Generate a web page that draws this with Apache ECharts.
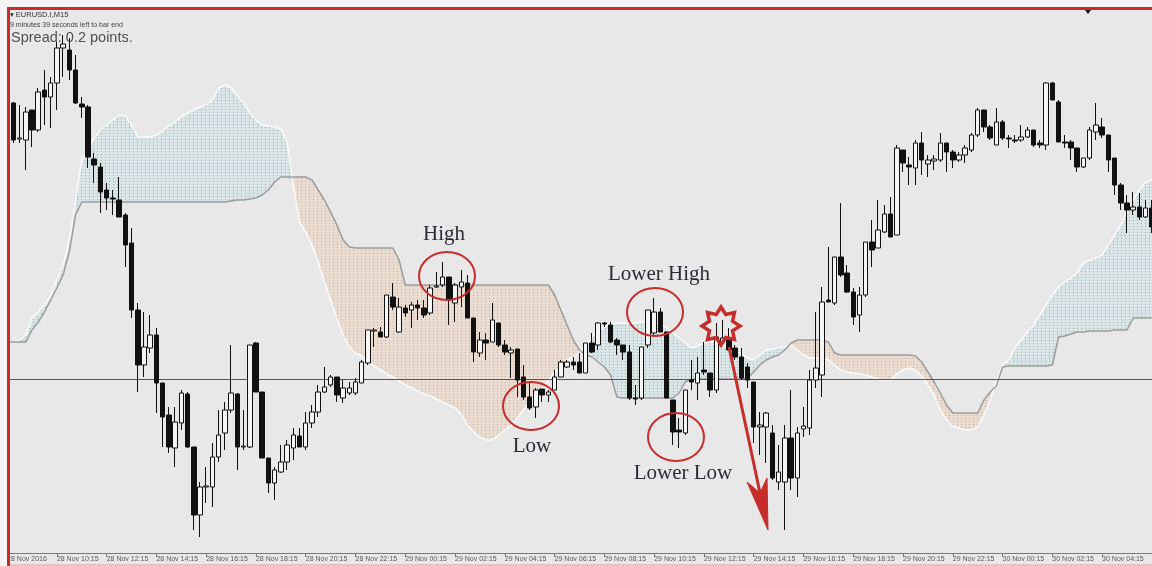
<!DOCTYPE html>
<html>
<head>
<meta charset="utf-8">
<title>EURUSD.I M15 - Ichimoku</title>
<script src="https://cdn.jsdelivr.net/npm/echarts@6.0.0/dist/echarts.min.js"></script>
<style>
    * { margin: 0; padding: 0; }
    body { background: #f4f4f4; }
    #main { width: 1152px; height: 566px; }
</style>
</head>
<body>
<div id="main"></div>
<script>
// x axis labels, one every 8 bars (2 hours of M15)
const tickLabels = ['28 Nov 2016', '28 Nov 10:15', '28 Nov 12:15', '28 Nov 14:15', '28 Nov 16:15', '28 Nov 18:15',
    '28 Nov 20:15', '28 Nov 22:15', '29 Nov 00:15', '29 Nov 02:15', '29 Nov 04:15', '29 Nov 06:15', '29 Nov 08:15',
    '29 Nov 10:15', '29 Nov 12:15', '29 Nov 14:15', '29 Nov 16:15', '29 Nov 18:15', '29 Nov 20:15', '29 Nov 22:15',
    '30 Nov 00:15', '30 Nov 02:15', '30 Nov 04:15', '30 Nov 06:15'];

// candles (price in chart units)
const openP = [
    468,463,427,426,456,436,476,469,483,518, 516,496,462,459,407,399,376,368,366,351,
    323,256,201,218,231,183,151,118,143,172, 119,51,79,79,109,133,156,172,119,119,
    223,174,108,83,94,104,118,130,119,143, 154,174,181,189,168,173,173,183,203,235,
    234,229,269,234,258,256,261,258,253,279, 281,289,263,279,283,248,213,226,224,243,
    221,213,217,189,169,159,177,171,176,189, 199,204,204,193,223,221,243,241,226,221,
    214,168,168,221,233,254,234,166,136,133, 186,183,196,193,176,224,226,218,209,199,
    184,139,139,133,84,84,128,88,137,138, 186,191,266,263,309,293,274,251,271,324,
    318,334,352,331,416,401,398,423,402,405, 406,423,414,406,411,416,431,456,439,421,
    444,428,426,426,429,436,423,421,483,464, 424,424,418,399,408,434,439,431,408,381,
    363,356,359,349,358];
const closeP = [
    463,426,428,454,436,474,469,483,518,522, 496,463,459,409,401,374,368,367,349,321,
    256,201,219,231,183,149,119,144,173,119, 51,79,80,109,131,156,173,119,120,221,
    174,108,83,96,104,121,131,119,143,154, 174,179,189,171,178,178,184,204,236,236,
    229,271,259,259,253,261,258,251,278,280, 289,266,281,284,248,214,226,223,246,221,
    214,216,186,169,158,176,171,174,189,204, 204,201,193,223,214,243,242,224,221,214,
    168,167,219,256,254,234,168,134,134,176, 184,193,194,176,229,228,216,209,188,186,
    139,141,153,88,94,128,88,133,140,186, 198,264,264,309,291,274,249,271,324,316,
    336,352,329,418,403,399,423,406,406,407, 423,414,406,411,418,431,456,439,428,444,
    428,427,425,429,436,421,421,483,466,424, 423,418,399,408,436,441,431,406,381,363,
    356,359,349,358,339];
const lowP = [
    458,423,423,396,419,434,441,438,456,489, 486,462,448,398,383,353,356,351,349,299,
    248,174,189,213,153,119,113,99,136,118, 36,29,63,59,104,116,153,96,116,118,
    174,108,73,66,93,96,106,119,116,138, 149,173,179,164,163,171,171,183,201,219,
    229,228,256,233,249,238,246,248,251,278, 279,241,244,259,248,204,209,206,224,219,
    211,188,169,166,156,148,164,164,176,189, 198,196,193,193,213,216,239,223,211,206,
    166,161,166,218,231,234,168,121,118,131, 176,166,191,169,173,223,216,206,186,178,
    123,111,103,86,76,36,76,69,129,131, 178,169,264,261,289,273,241,234,269,299,
    318,333,329,331,394,381,381,391,389,396, 404,394,398,404,403,414,429,434,426,421,
    426,418,423,424,428,419,418,416,466,424, 418,406,394,398,406,426,428,394,371,356,
    333,351,346,348,333];
const highP = [
    471,464,461,459,456,478,496,489,524,531, 528,511,469,461,413,403,383,376,389,353,
    338,263,254,251,238,183,159,159,176,174, 119,84,99,123,156,164,221,173,156,221,
    224,174,108,99,121,126,138,138,154,161, 181,199,191,189,186,184,188,206,236,238,
    239,271,283,268,261,264,266,266,281,294, 304,289,283,296,291,248,234,233,263,243,
    226,219,217,201,184,178,177,176,196,206, 206,209,213,223,233,244,244,244,228,221,
    221,181,219,256,268,258,234,166,148,176, 206,209,224,193,243,246,238,221,218,203,
    184,154,154,141,121,141,176,139,159,196, 254,279,319,309,363,301,278,279,324,346,
    366,361,369,421,416,409,426,434,411,411, 433,423,416,414,421,433,458,456,441,458,
    446,431,431,441,439,436,426,484,484,466, 431,426,418,408,439,463,448,431,408,383,
    371,374,373,366,366];

// Ichimoku cloud: Senkou Span A (white) and Senkou Span B (grey)
const spanA = [
    224,224,226,231,248,254,261,270,286,301, 326,366,406,416,428,436,441,446,451,450,
    441,429,429,429,431,435,440,444,449,453, 456,459,461,466,478,481,478,470,463,453,
    446,441,440,439,437,424,381,344,334,321, 304,284,266,248,231,219,213,210,204,200,
    196,192,189,185,181,178,175,172,170,167, 164,161,158,152,141,134,129,126,126,131,
    136,141,148,156,164,171,178,186,194,198, 206,209,214,221,229,236,239,242,243,243,
    243,243,244,244,243,241,238,233,228,223, 218,220,223,224,223,221,218,215,212,208,
    206,211,216,217,218,219,221,216,211,208, 208,208,206,201,196,194,193,192,191,189,
    187,186,186,192,196,198,196,190,181,171, 156,146,140,138,136,136,139,151,166,184,
    201,206,218,226,234,241,251,261,271,279, 284,288,293,303,306,308,311,321,331,341,
    354,366,376,384,386];
const spanB = [
    224,224,224,224,236,244,254,266,278,291, 314,351,364,364,364,364,364,364,364,364,
    364,364,364,364,364,364,364,364,364,364, 364,364,364,364,364,364,365,366,366,367,
    368,371,376,384,389,389,389,389,389,386, 376,366,354,341,326,319,318,318,318,318,
    318,318,318,306,281,281,281,281,281,281, 281,281,281,281,281,281,281,281,281,281,
    281,281,281,281,281,281,281,281,271,256, 241,226,216,211,209,204,199,191,169,168,
    168,168,168,168,168,168,168,168,173,184, 187,187,187,187,187,187,187,187,187,188,
    194,201,206,209,211,216,223,226,226,226, 226,226,224,213,211,211,211,211,211,211,
    211,211,211,211,211,211,210,204,194,184, 173,161,153,153,153,153,153,166,174,180,
    199,200,200,200,200,200,200,200,201,229, 230,232,234,234,235,235,235,235,236,236,
    236,248,248,248,248];

const refLevel = 187;

// bar times, M15 from 28 Nov 08:15
const dayNames = ['28 Nov', '29 Nov', '30 Nov'];
const barTimes = openP.map((_, i) => {
    const m = 8 * 60 + 15 + i * 15;
    const mm = m % 1440;
    return dayNames[Math.floor(m / 1440)] + ' ' + String(Math.floor(mm / 60)).padStart(2, '0') + ':' + String(mm % 60).padStart(2, '0');
});

const candles = openP.map((o, i) => [o, closeP[i], lowP[i], highP[i]]);
const kumoBase = spanA.map((a, i) => Math.min(a, spanB[i]));
const kumoUp = spanA.map((a, i) => Math.max(a - spanB[i], 0));
const kumoDown = spanA.map((a, i) => Math.max(spanB[i] - a, 0));

// dotted hatch like the MT4 cloud
function dotPattern(bg, dot) {
    const c = document.createElement('canvas');
    c.width = 4; c.height = 3;
    const ctx = c.getContext('2d');
    ctx.fillStyle = bg; ctx.fillRect(0, 0, 4, 3);
    ctx.fillStyle = dot; ctx.fillRect(1, 1, 1, 1);
    return c;
}

const red = '#c62d2b';
const ink = '#2b2b38';
const serif = '"Liberation Serif", "DejaVu Serif", serif';

function label(text, x, y) {
    return {
        type: 'text', x: x, y: y, z: 104,
        style: { text: text, font: '21px ' + serif, fill: ink,
            textAlign: 'center', align: 'center', textVerticalAlign: 'middle', verticalAlign: 'middle' }
    };
}
function ring(cx, cy) {
    return { type: 'ellipse', z: 103, shape: { cx: cx, cy: cy, rx: 28, ry: 24 },
        style: { fill: 'none', stroke: red, lineWidth: 2 } };
}

const starPts = [];
for (let k = 0; k < 16; k++) {
    const a = -Math.PI / 2 + k * Math.PI / 8;
    const r = k % 2 === 0 ? 19 : 12.5;
    starPts.push([721 + r * Math.cos(a), 326 + r * Math.sin(a)]);
}

var myChart = echarts.init(document.getElementById('main'), null, { renderer: 'canvas' });

const option = {
    animation: false,
    backgroundColor: '#e8e8e8',
    grid: { left: 4, top: 9, width: 1151, height: 544, outerBoundsMode: 'none', containLabel: false },
    xAxis: {
        type: 'category',
        data: barTimes,
        boundaryGap: true,
        axisLine: { lineStyle: { color: '#7a7a7a', width: 1 } },
        axisTick: { show: true, alignWithLabel: true, length: 4, interval: (i) => i % 8 === 0,
            lineStyle: { color: '#7a7a7a' } },
        axisLabel: {
            interval: (i) => i % 8 === 0,
            formatter: (v, i) => tickLabels[i / 8] || '',
            align: 'left', fontSize: 7, color: '#5a5a5a', margin: 3,
            fontFamily: '"Liberation Sans", Arial, sans-serif'
        },
        splitLine: { show: false }
    },
    yAxis: { type: 'value', min: 13, max: 557, show: false, splitLine: { show: false } },
    series: [
        { type: 'line', data: kumoBase, stack: 'kumo', symbol: 'none', silent: true, z: 1,
            lineStyle: { width: 0, opacity: 0 } },
        { type: 'line', data: kumoUp, stack: 'kumo', symbol: 'none', silent: true, z: 1,
            lineStyle: { width: 0, opacity: 0 },
            areaStyle: { opacity: 1, color: { image: dotPattern('#d9e4e6', '#8fb3b8'), repeat: 'repeat' } } },
        { type: 'line', data: kumoDown, stack: 'kumo', symbol: 'none', silent: true, z: 1,
            lineStyle: { width: 0, opacity: 0 },
            areaStyle: { opacity: 1, color: { image: dotPattern('#ebdcd1', '#dca782'), repeat: 'repeat' } } },
        { type: 'line', name: 'Senkou A', data: spanA, symbol: 'none', silent: true, z: 2,
            lineStyle: { color: '#fbfbfb', width: 1.5 } },
        { type: 'line', name: 'Senkou B', data: spanB, symbol: 'none', silent: true, z: 2,
            lineStyle: { color: '#9c9c9c', width: 1.5 } },
        {
            type: 'candlestick', name: 'EURUSD.I', data: candles, barWidth: 5, z: 5,
            itemStyle: { color: '#f5f5f5', color0: '#111', borderColor: '#111', borderColor0: '#111', borderWidth: 1 },
            markLine: {
                silent: true, symbol: 'none', label: { show: false },
                lineStyle: { color: '#555', width: 1, type: 'solid' },
                data: [{ yAxis: refLevel }]
            }
        }
    ],
    graphic: [
        // margin outside the red frame
        { type: 'rect', z: 100, shape: { x: 0, y: 0, width: 1152, height: 7 }, style: { fill: '#f4f4f4' } },
        { type: 'rect', z: 100, shape: { x: 0, y: 0, width: 7, height: 566 }, style: { fill: '#f4f4f4' } },
        { type: 'rect', z: 101, shape: { x: 7, y: 7, width: 1145, height: 3 }, style: { fill: red } },
        { type: 'rect', z: 101, shape: { x: 7, y: 7, width: 3, height: 559 }, style: { fill: red } },
        { type: 'rect', z: 101, shape: { x: 10, y: 564, width: 1142, height: 2 }, style: { fill: '#e6c4c2' } },
        { type: 'polygon', z: 102, shape: { points: [[1085, 10], [1091, 10], [1088, 14]] }, style: { fill: '#111' } },

        // MT4 header texts
        { type: 'text', x: 10, y: 15, z: 102, style: { text: '▾ EURUSD.I,M15', font: '7.5px "Liberation Sans", "DejaVu Sans"', fill: '#333',
            textVerticalAlign: 'middle', verticalAlign: 'middle' } },
        { type: 'text', x: 10, y: 25.5, z: 102, style: { text: '9 minutes 39 seconds left to bar end', font: '7px "Liberation Sans"', fill: '#444',
            textVerticalAlign: 'middle', verticalAlign: 'middle' } },
        { type: 'text', x: 11, y: 38, z: 102, style: { text: 'Spread: 0.2 points.', font: '14.5px "Liberation Sans"', fill: '#505050',
            textVerticalAlign: 'middle', verticalAlign: 'middle' } },

        // annotations
        label('High', 444, 234),
        label('Low', 532, 446),
        label('Lower High', 659, 274),
        label('Lower Low', 683, 473),
        ring(447, 276),
        ring(531, 406),
        ring(655, 312),
        ring(676, 437),
        { type: 'polygon', z: 103, shape: { points: starPts }, style: { fill: 'none', stroke: red, lineWidth: 3.5, lineJoin: 'miter' } },
        { type: 'line', z: 103, shape: { x1: 729, y1: 347, x2: 760, y2: 493 }, style: { stroke: red, lineWidth: 3 } },
        { type: 'polygon', z: 103, shape: { points: [[768, 530], [747, 482], [760, 493], [767, 478]] }, style: { fill: red, stroke: red, lineWidth: 1 } }
    ]
};

myChart.setOption(option);
window.addEventListener('resize', () => myChart.resize());
</script>
</body>
</html>
